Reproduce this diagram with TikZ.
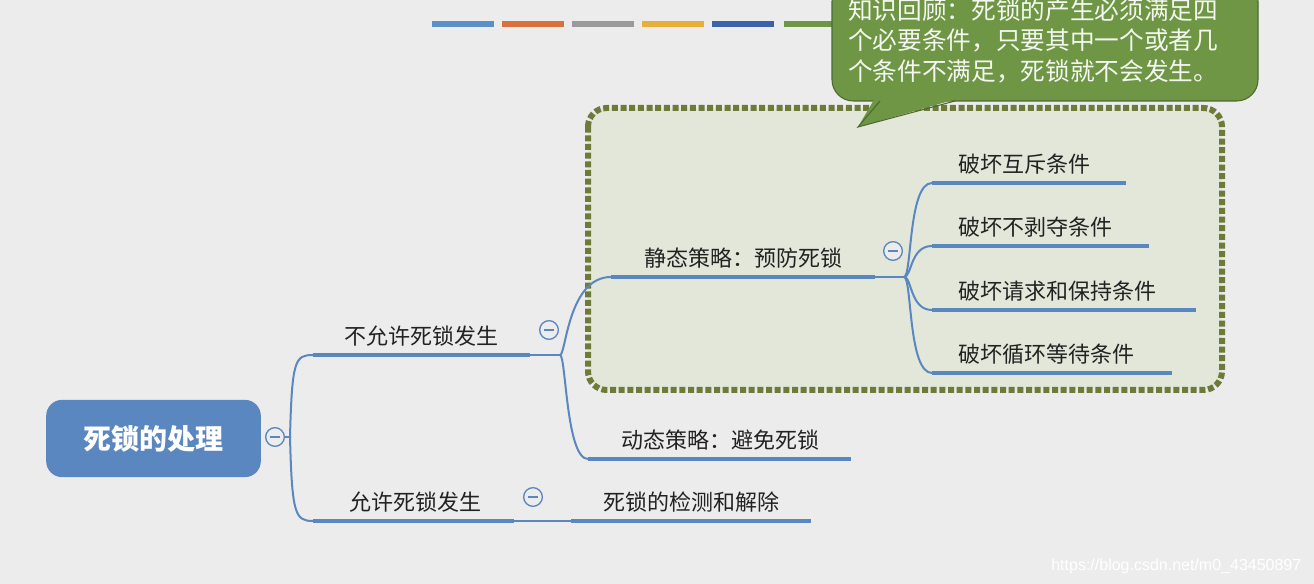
\documentclass[tikz,border=0pt]{standalone}
\usepackage{fontspec}
\setmainfont{Noto Sans CJK SC}
\newfontfamily\wmfont{Liberation Sans}
\usetikzlibrary{calc}
\definecolor{bg}{HTML}{ECECEC}
\definecolor{mblue}{HTML}{5B87C0}
\definecolor{lblue}{HTML}{5B8FC8}
\definecolor{borange}{HTML}{D9703E}
\definecolor{bgray}{HTML}{9A9A9A}
\definecolor{byellow}{HTML}{E9AE3A}
\definecolor{bdblue}{HTML}{3D62AC}
\definecolor{bgreen}{HTML}{6E9645}
\definecolor{olive}{HTML}{6E7A3A}
\definecolor{boxfill}{HTML}{E3E7DA}
\definecolor{txt}{HTML}{222222}
\tikzset{
  under/.style={draw=mblue,line width=3pt},
  conn/.style={draw=mblue,line width=1.5pt},
  lbl/.style={anchor=south,font=\fontsize{16.5}{19}\selectfont,text=txt,inner sep=1pt},
  tog/.style={circle,draw=mblue,fill=bg,line width=1pt,minimum size=14pt,inner sep=0pt,
     path picture={\draw[mblue,line width=1pt]([xshift=-4pt]path picture bounding box.center)--([xshift=4pt]path picture bounding box.center);}},
  bar/.style={line width=4pt},
}
\begin{document}
\begin{tikzpicture}[x=0.75pt,y=-0.75pt]
\useasboundingbox (0,0) rectangle (1314,584);
\clip (0,0) rectangle (1314,584);
\fill[bg] (0,0) rectangle (1314,584);
% color bars
\foreach \a/\c in {432/lblue,502/borange,572/bgray,642/byellow,712/bdblue,784/bgreen}
  \draw[bar,\c] (\a,24) -- ++(62,0);
% dotted box
\draw[olive,fill=boxfill,line width=4.5pt,dotted,rounded corners=14pt] (588,108) rectangle (1222,390);
% callout
\draw[fill=bgreen,draw=bgreen!70!black,line width=0.8pt,rounded corners=16pt] (832,-20) rectangle (1258,101);
\fill[bgreen] (875,98) -- (858,127) -- (960,98) -- cycle;
\draw[bgreen!70!black,line width=0.8pt] (880,101) -- (858,127) -- (955,101);
\node[anchor=north west,text=white!92!bgreen,font=\fontsize{18.5}{23}\selectfont,align=left,inner sep=0pt] (note) at (848,-2)
  {知识回顾：死锁的产生必须满足四\\个必要条件，只要其中一个或者几\\个条件不满足，死锁就不会发生。};
% root
\node[fill=mblue,rounded corners=12pt,minimum width=161pt,minimum height=58pt,text=white,font=\fontsize{21}{24}\selectfont\bfseries] (root) at (153.5,438.5) {死锁的处理};
\node[tog] (t0) at (275,437) {};
% level 1
\coordinate (r0) at (290,437);
\coordinate (a1) at (313,355); \coordinate (a2) at (530,355);
\coordinate (b1) at (313,521); \coordinate (b2) at (514,521);
\draw[under] (a1) -- (a2); \draw[under] (b1) -- (b2);
\node[lbl] (la) at (421,348) {不允许死锁发生};
\node[lbl] (lb) at (415,514) {允许死锁发生};
\node[tog] (ta) at (549,330) {};
\node[tog] (tb) at (533,497) {};
\draw[conn] (t0) -- (r0);
\draw[conn] (r0) .. controls (292,360) and (295,355) .. (a1);
\draw[conn] (r0) .. controls (292,514) and (295,521) .. (b1);
% level 2
\coordinate (s0) at (560,355);
\coordinate (c1) at (611,277); \coordinate (c2) at (875,277);
\coordinate (d1) at (588,459); \coordinate (d2) at (851,459);
\coordinate (e1) at (571,521); \coordinate (e2) at (811,521);
\draw[under] (c1) -- (c2); \draw[under] (d1) -- (d2); \draw[under] (e1) -- (e2);
\node[lbl] (lc) at (743,270) {静态策略：预防死锁};
\node[lbl] (ld) at (720,452) {动态策略：避免死锁};
\node[lbl] (le) at (691,514) {死锁的检测和解除};
\node[tog] (tc) at (893,251) {};
\draw[conn] (a2) -- (s0);
\draw[conn] (s0) .. controls (566,355) and (568,277) .. (c1);
\draw[conn] (s0) .. controls (566,355) and (566,459) .. (d1);
\draw[conn] (b2) -- (e1);
% level 3
\coordinate (f0) at (904,277);
\foreach \y/\xe/\t/\n in {183/1126/破坏互斥条件/g1,246/1149/破坏不剥夺条件/g2,310/1196/破坏请求和保持条件/g3,373/1172/破坏循环等待条件/g4}{
  \coordinate (\n a) at (932,\y); \coordinate (\n b) at (\xe,\y);
  \draw[under] (\n a) -- (\n b);
  \node[lbl,anchor=south west] (\n l) at (957,\y-7) {\t};
}
\draw[conn] (c2) -- (f0);
\draw[conn] (f0) .. controls (912,277) and (908,183) .. (g1a);
\draw[conn] (f0) .. controls (912,277) and (910,246) .. (g2a);
\draw[conn] (f0) .. controls (912,277) and (910,310) .. (g3a);
\draw[conn] (f0) .. controls (912,277) and (908,373) .. (g4a);
% watermark
\node[text=white,font=\wmfont\fontsize{12}{14}\selectfont,anchor=east] (wm) at (1306,566) {https://blog.csdn.net/m0\_43450897};
\end{tikzpicture}
\end{document}
